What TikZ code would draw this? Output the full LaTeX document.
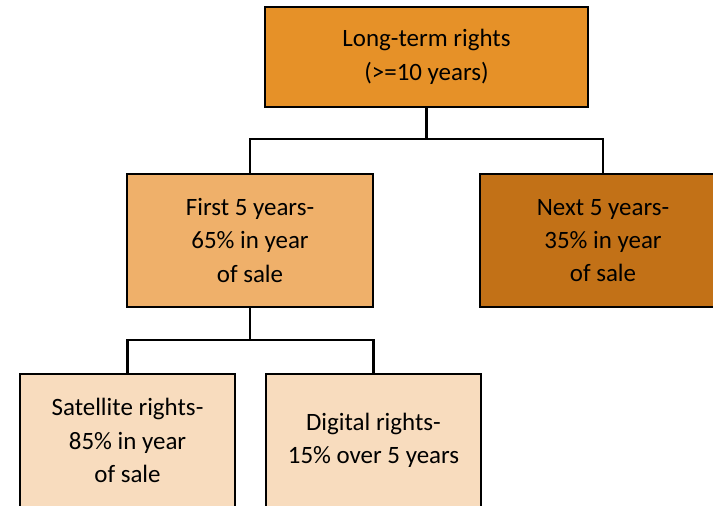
\documentclass[tikz,border=0pt]{standalone}
\usepackage{fontspec}
\setmainfont{Carlito}
\usepackage{xcolor}
\usetikzlibrary{positioning, calc}
\definecolor{rootfill}{HTML}{E69128}
\definecolor{firstfill}{HTML}{EFB06A}
\definecolor{nextfill}{HTML}{C27117}
\definecolor{leaffill}{HTML}{F8DCBE}
\tikzset{every picture/.append style={thick}}

\begin{document}
\begin{tikzpicture}[x=0.02cm, y=-0.02cm,
    rightsbox/.style={draw, line width=1.5pt, align=center, inner sep=0pt,
        font=\fontsize{14.2}{19}\selectfont},
    wire/.style={line width=1.4pt}]
            \useasboundingbox (0,0) rectangle (713,506);
            \clip (0,0) rectangle (713,506);

            % Long-term rights
            \node[rightsbox, fill=rootfill, minimum width=6.46cm, minimum height=2cm]
                (longterm) at (426.5,57) {Long-term rights\\(>=10 years)};

            % Split into first and next five years
            \node[rightsbox, fill=firstfill, minimum width=4.92cm, minimum height=2.66cm]
                (first) at (250,240.5) {First 5 years-\\65\% in year\\of sale};
            \node[rightsbox, fill=nextfill, minimum width=4.92cm, minimum height=2.66cm]
                (next) at (603,240.5) {Next 5 years-\\35\% in year\\of sale};

            % Satellite and digital rights
            \node[rightsbox, fill=leaffill, minimum width=4.3cm, minimum height=2.66cm]
                (satellite) at (127.5,440.5) {Satellite rights-\\85\% in year\\of sale};
            \node[rightsbox, fill=leaffill, minimum width=4.3cm, minimum height=2.66cm]
                (digital) at (373.5,440.5) {Digital rights-\\15\% over 5 years};

            % Tree connectors
            \coordinate (topsplit) at (426.5,139);
            \coordinate (midsplit) at (250,340);
            \draw[wire] (longterm.south) -- (topsplit);
            \draw[wire] (topsplit) -| (first.north);
            \draw[wire] (topsplit) -| (next.north);
            \draw[wire] (first.south) -- (midsplit);
            \draw[wire] (midsplit) -| (satellite.north);
            \draw[wire] (midsplit) -| (digital.north);
        \end{tikzpicture}
\end{document}
